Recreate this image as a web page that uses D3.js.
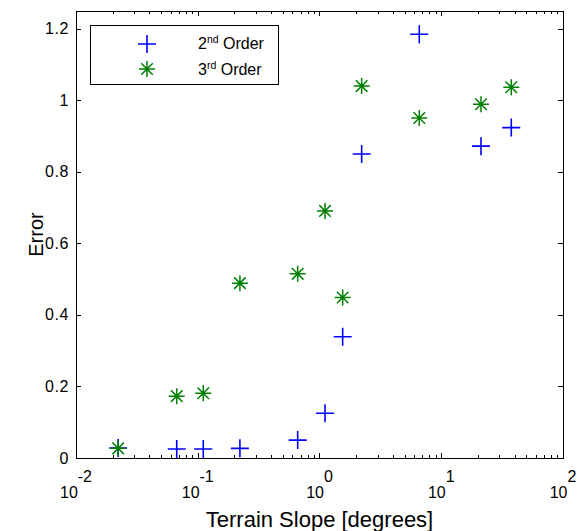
<!DOCTYPE html>
<html>
<head>
<meta charset="utf-8">
<script src="https://cdn.jsdelivr.net/npm/d3@7"></script>
<style>
  html, body { margin: 0; padding: 0; background: #fff; }
  svg { display: block; font-family: "Liberation Sans", Arial, sans-serif; }
</style>
</head>
<body>
<svg id="chart" width="584" height="531"></svg>
<script>
// ---- Data ----
const slopes = [0.0222, 0.0672, 0.111, 0.222, 0.662, 1.11, 1.55, 2.22, 6.6, 21.2, 37.6];
const order2 = [0.028, 0.025, 0.025, 0.027, 0.050, 0.125, 0.339, 0.850, 1.185, 0.872, 0.924];
const order3 = [0.027, 0.173, 0.181, 0.489, 0.515, 0.691, 0.449, 1.040, 0.951, 0.989, 1.037];
const yTicks = [0, 0.2, 0.4, 0.6, 0.8, 1, 1.2];
const yTickLabels = ["0", "0.2", "0.4", "0.6", "0.8", "1", "1.2"];
const xDecades = [-2, -1, 0, 1, 2];
const seriesNames = [["2", "nd", " Order"], ["3", "rd", " Order"]];

const svg = d3.select("#chart");
const m = { left: 76, right: 563, top: 11, bottom: 458 };

const x = d3.scaleLog().domain([0.01, 100]).range([m.left, m.right]);
const y = d3.scaleLinear().domain([0, 1.25]).range([m.bottom, m.top]);

const blue = "#0000ff", green = "#008000";

// Axes box
svg.append("rect")
  .attr("x", m.left + 0.5).attr("y", m.top + 0.5)
  .attr("width", m.right - m.left).attr("height", m.bottom - m.top)
  .attr("fill", "none").attr("stroke", "#000").attr("stroke-width", 1);

// X ticks (major + minor), inward on bottom and top
const minor = [];
for (let d = -2; d < 2; d++) for (let k = 2; k <= 9; k++) minor.push(k * Math.pow(10, d));
const majors = xDecades.map(e => Math.pow(10, e));
const tickG = svg.append("g").attr("stroke", "#000").attr("stroke-width", 1);
majors.forEach(v => {
  const px = Math.round(x(v)) + 0.5;
  tickG.append("line").attr("x1", px).attr("x2", px).attr("y1", m.bottom).attr("y2", m.bottom - 5);
  tickG.append("line").attr("x1", px).attr("x2", px).attr("y1", m.top).attr("y2", m.top + 5);
});
minor.forEach(v => {
  const px = Math.round(x(v)) + 0.5;
  tickG.append("line").attr("x1", px).attr("x2", px).attr("y1", m.bottom).attr("y2", m.bottom - 3);
  tickG.append("line").attr("x1", px).attr("x2", px).attr("y1", m.top).attr("y2", m.top + 3);
});
// Y ticks, inward on left and right
yTicks.forEach(v => {
  const py = Math.round(y(v)) + 0.5;
  tickG.append("line").attr("x1", m.left).attr("x2", m.left + 5).attr("y1", py).attr("y2", py);
  tickG.append("line").attr("x1", m.right).attr("x2", m.right - 5).attr("y1", py).attr("y2", py);
});

// Y tick labels
svg.append("g").selectAll("text").data(yTicks).join("text")
  .attr("x", 69).attr("y", d => y(d) + 5.5)
  .attr("text-anchor", "end").attr("font-size", 16).attr("letter-spacing", 0.6).attr("fill", "#000")
  .text((d, i) => yTickLabels[i]);

// X tick labels: 10^e
const xl = svg.append("g").attr("font-size", 16).attr("fill", "#000");
xDecades.forEach(e => {
  const t = xl.append("text").attr("x", x(Math.pow(10, e))).attr("y", 498).attr("text-anchor", "middle");
  t.append("tspan").text("10");
  t.append("tspan").attr("dy", -16).text(String(e));
});

// Axis labels
svg.append("text").attr("x", (m.left + m.right) / 2).attr("y", 527)
  .attr("text-anchor", "middle").attr("font-size", 22).text("Terrain Slope [degrees]");
svg.append("text").attr("transform", `translate(43,${(m.top + m.bottom) / 2}) rotate(-90)`)
  .attr("text-anchor", "middle").attr("font-size", 20).text("Error");

// Marker helpers
function plusPath(r) { return `M${-r},0H${r}M0,${-r}V${r}`; }
function starPath(r) {
  const d = r * 0.72;
  return `M${-r},0H${r}M0,${-r}V${r}M${-d},${-d}L${d},${d}M${-d},${d}L${d},${-d}`;
}

// Series 2nd order (plus)
svg.append("g").selectAll("path").data(slopes).join("path")
  .attr("transform", (d, i) => `translate(${x(d)},${y(order2[i])})`)
  .attr("d", plusPath(9)).attr("stroke", blue).attr("stroke-width", 1.6).attr("fill", "none");

// Series 3rd order (star)
svg.append("g").selectAll("path").data(slopes).join("path")
  .attr("transform", (d, i) => `translate(${x(d)},${y(order3[i])})`)
  .attr("d", starPath(8)).attr("stroke", green).attr("stroke-width", 1.5).attr("fill", "none");

// Legend
const lg = svg.append("g");
lg.append("rect").attr("x", 90.5).attr("y", 25.5).attr("width", 188).attr("height", 59)
  .attr("fill", "#fff").attr("stroke", "#000").attr("stroke-width", 1);
lg.append("path").attr("transform", "translate(147,44)").attr("d", plusPath(9))
  .attr("stroke", blue).attr("stroke-width", 1.6).attr("fill", "none");
lg.append("path").attr("transform", "translate(147,69)").attr("d", starPath(8))
  .attr("stroke", green).attr("stroke-width", 1.5).attr("fill", "none");
[49, 75].forEach((by, i) => {
  const t = lg.append("text").attr("x", 198).attr("y", by).attr("font-size", 16).attr("fill", "#000");
  t.append("tspan").text(seriesNames[i][0]);
  t.append("tspan").attr("dy", -6).attr("font-size", 10.5).text(seriesNames[i][1]);
  t.append("tspan").attr("dy", 6).text(seriesNames[i][2]);
});
</script>
</body>
</html>
